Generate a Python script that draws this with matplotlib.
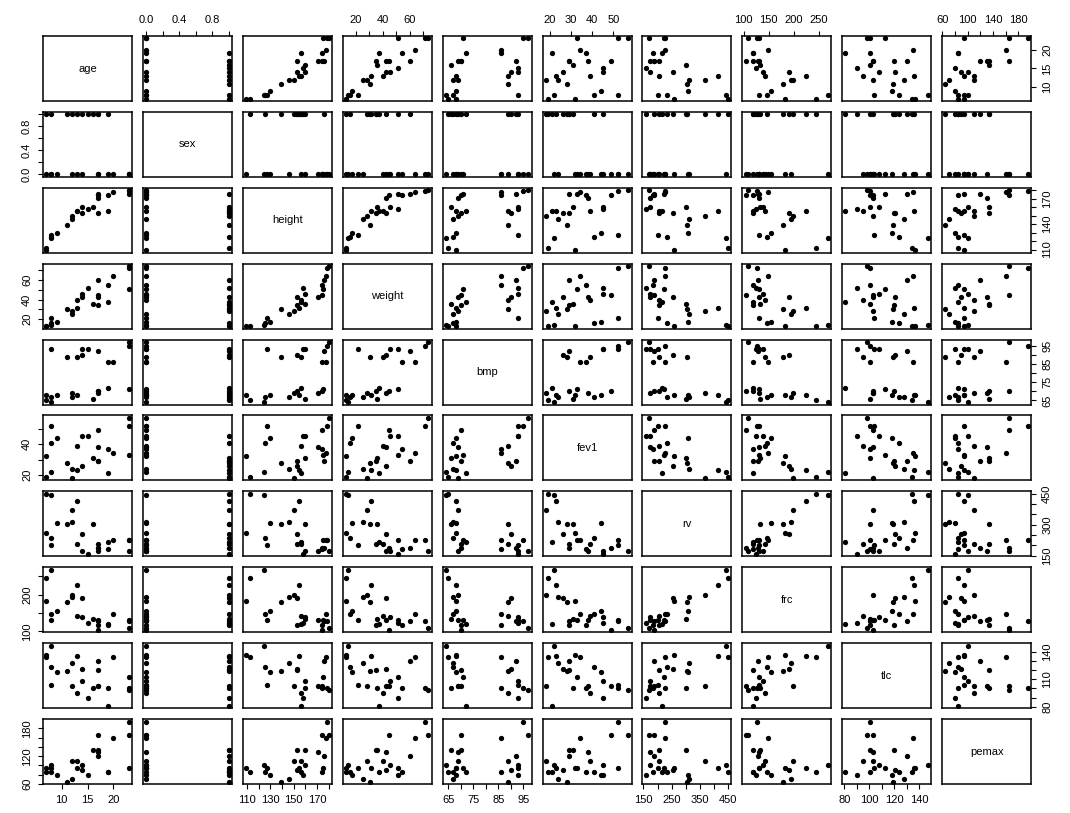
import numpy as np
import matplotlib
matplotlib.use("Agg")
from matplotlib import pyplot as plt

plt.rcParams['font.family'] = ['Liberation Sans', 'DejaVu Sans']

# cystfibr data (25 patients)
age = [7, 7, 8, 8, 8, 9, 11, 12, 12, 13, 13, 14, 14, 15, 16, 17, 17, 17, 17, 19, 19, 20, 23, 23, 23]
sex = [0, 1, 0, 1, 0, 0, 1, 1, 0, 1, 0, 1, 0, 1, 1, 1, 0, 1, 0, 1, 0, 0, 0, 0, 0]
height = [109, 112, 124, 125, 127, 130, 139, 150, 146, 155, 156, 153, 160, 158, 160, 153, 174, 176, 171, 156, 174, 178, 180, 175, 179]
weight = [13.1, 12.9, 14.1, 16.2, 21.5, 17.5, 30.7, 28.4, 25.1, 31.5, 39.9, 42.1, 45.6, 51.2, 35.9, 34.8, 44.7, 60.1, 42.6, 37.2, 54.6, 64.0, 73.8, 51.1, 71.5]
bmp = [68, 65, 64, 67, 93, 68, 89, 69, 67, 68, 89, 90, 93, 93, 66, 70, 70, 92, 69, 72, 86, 86, 97, 71, 95]
fev1 = [32, 19, 22, 41, 52, 44, 28, 18, 24, 23, 39, 26, 45, 45, 31, 29, 49, 29, 38, 21, 37, 34, 57, 33, 52]
rv = [258, 449, 441, 234, 202, 308, 305, 369, 312, 413, 206, 253, 174, 158, 302, 204, 187, 188, 172, 216, 184, 225, 171, 224, 225]
frc = [183, 245, 268, 146, 131, 155, 179, 198, 194, 225, 142, 191, 139, 124, 133, 118, 104, 129, 130, 119, 118, 148, 108, 131, 127]
tlc = [137, 134, 147, 124, 104, 118, 119, 103, 128, 136, 95, 121, 108, 90, 101, 120, 103, 130, 103, 81, 101, 135, 98, 113, 101]
pemax = [95, 85, 100, 85, 95, 80, 65, 110, 70, 95, 110, 90, 100, 80, 134, 134, 165, 120, 130, 85, 85, 160, 165, 95, 195]

names = ['age', 'sex', 'height', 'weight', 'bmp', 'fev1', 'rv', 'frc', 'tlc', 'pemax']
cols = [age, sex, height, weight, bmp, fev1, rv, frc, tlc, pemax]

# ticks per variable, labels on horizontal axes, labels on vertical axes
ticks = {
    'age': [10, 15, 20],
    'sex': [0, 0.2, 0.4, 0.6, 0.8, 1.0],
    'height': [110, 120, 130, 140, 150, 160, 170, 180],
    'weight': [20, 30, 40, 50, 60, 70],
    'bmp': [65, 70, 75, 80, 85, 90, 95],
    'fev1': [20, 30, 40, 50],
    'rv': [150, 200, 250, 300, 350, 400, 450],
    'frc': [100, 150, 200, 250],
    'tlc': [80, 90, 100, 110, 120, 130, 140],
    'pemax': [60, 80, 100, 120, 140, 160, 180],
}
hlabels = {
    'age': ['10', '15', '20'],
    'sex': ['0.0', '0.4', '0.8'],
    'height': ['110', '130', '150', '170'],
    'weight': ['20', '40', '60'],
    'bmp': ['65', '75', '85', '95'],
    'fev1': ['20', '30', '40', '50'],
    'rv': ['150', '250', '350', '450'],
    'frc': ['100', '150', '200', '250'],
    'tlc': ['80', '100', '120', '140'],
    'pemax': ['60', '100', '140', '180'],
}
vlabels = {
    'age': ['10', '15', '20'],
    'sex': ['0.0', '0.4', '0.8'],
    'height': ['110', '140', '170'],
    'weight': ['20', '40', '60'],
    'bmp': ['65', '75', '85', '95'],
    'fev1': ['20', '40'],
    'rv': ['150', '300', '450'],
    'frc': ['100', '200'],
    'tlc': ['80', '110', '140'],
    'pemax': ['60', '120', '180'],
}


def fmt_ticks(name, labels):
    out = []
    for t in ticks[name]:
        s = '%.1f' % t if name == 'sex' else '%d' % t
        out.append(s if s in labels else '')
    return out


W, H = 1070, 813
fig = plt.figure(figsize=(W / 100, H / 100), dpi=100)

n = len(names)
x0, y0 = 43, 36
dx, dy = 99.9, 75.9
pw, ph = 89, 65

for i in range(n):
    for j in range(n):
        left = x0 + dx * j
        top = y0 + dy * i
        ax = fig.add_axes([left / W, 1 - (top + ph) / H, pw / W, ph / H])
        xv = np.array(cols[j], dtype=float)
        yv = np.array(cols[i], dtype=float)
        xr = xv.max() - xv.min()
        yr = yv.max() - yv.min()
        ax.set_xlim(xv.min() - 0.04 * xr, xv.max() + 0.04 * xr)
        ax.set_ylim(yv.min() - 0.04 * yr, yv.max() + 0.04 * yr)
        for s in ax.spines.values():
            s.set_linewidth(1.1)
        ax.tick_params(length=3.4, width=0.8, labelsize=8, pad=4.5,
                       colors='black')
        ax.set_xticks([])
        ax.set_yticks([])
        if i == j:
            ax.text(0.5, 0.5, names[i], transform=ax.transAxes,
                    ha='center', va='center', fontsize=8)
        else:
            ax.plot(xv, yv, 'o', color='black', markersize=3.8,
                    markeredgewidth=0)
        # outer axes alternate like R pairs()
        if i == 0 and j % 2 == 1:
            ax.xaxis.tick_top()
            ax.set_xticks(ticks[names[j]])
            ax.set_xticklabels(fmt_ticks(names[j], hlabels[names[j]]))
        if i == n - 1 and j % 2 == 0:
            ax.set_xticks(ticks[names[j]])
            ax.set_xticklabels(fmt_ticks(names[j], hlabels[names[j]]))
        if j == 0 and i % 2 == 1:
            ax.set_yticks(ticks[names[i]])
            ax.set_yticklabels(fmt_ticks(names[i], vlabels[names[i]]),
                               rotation=90, va='center')
        if j == n - 1 and i % 2 == 0:
            ax.yaxis.tick_right()
            ax.set_yticks(ticks[names[i]])
            ax.set_yticklabels(fmt_ticks(names[i], vlabels[names[i]]),
                               rotation=90, va='center')

fig.savefig('out.png', dpi=100)
